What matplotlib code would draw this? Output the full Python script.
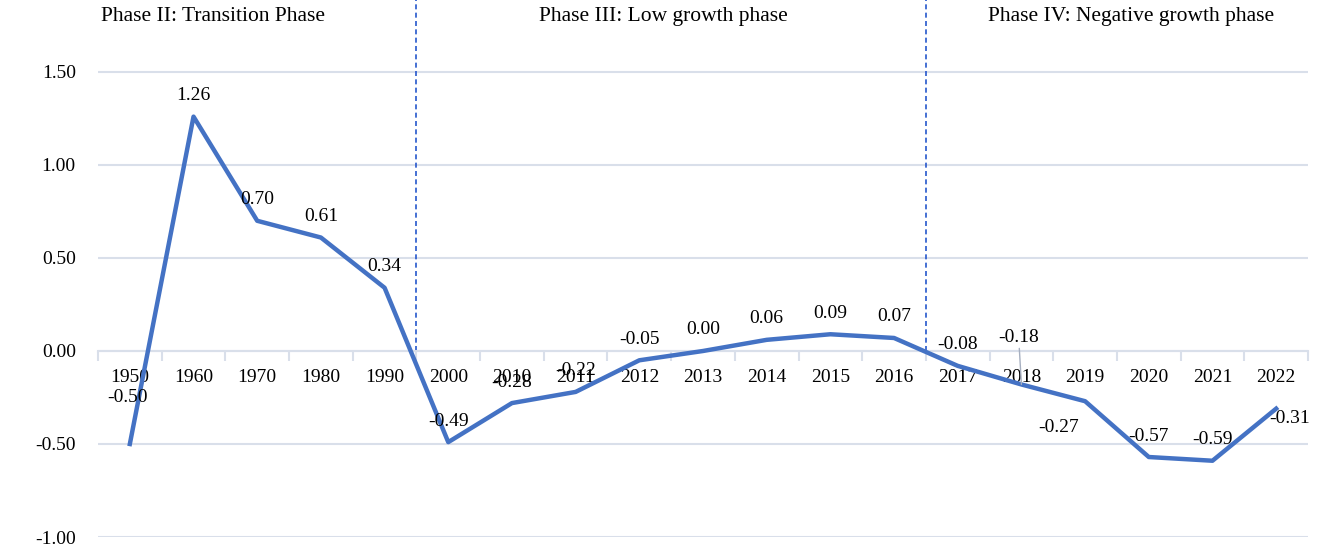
import matplotlib
matplotlib.use('Agg')
import matplotlib.pyplot as plt
import numpy as np

years = ['1950', '1960', '1970', '1980', '1990', '2000', '2010', '2011', '2012',
         '2013', '2014', '2015', '2016', '2017', '2018', '2019', '2020', '2021', '2022']
growth = [-0.50, 1.26, 0.70, 0.61, 0.34, -0.49, -0.28, -0.22, -0.05,
          0.00, 0.06, 0.09, 0.07, -0.08, -0.18, -0.27, -0.57, -0.59, -0.31]
phases = ['Phase II: Transition Phase', 'Phase III: Low growth phase',
          'Phase IV: Negative growth phase']

plt.rcParams['font.family'] = ['Liberation Serif', 'DejaVu Serif']

fig = plt.figure(figsize=(13.28, 5.53), dpi=100)
ax = fig.add_axes([98 / 1328, 16 / 553, 1210 / 1328, 537 / 553])

x = np.arange(len(years))
ax.plot(x, growth, color='#4472C4', lw=3.2, solid_joinstyle='round', zorder=3)

ax.set_xlim(-0.5, len(years) - 0.5)
ax.set_ylim(-1.0, 1.887)
yt = [-1.0, -0.5, 0.0, 0.5, 1.0, 1.5]
ax.set_yticks(yt)
ax.set_yticklabels([f'{v:.2f}' for v in yt], fontsize=14)
ax.yaxis.grid(True, color='#D9DFEA', lw=1.5)
ax.set_axisbelow(True)
ax.tick_params(axis='y', length=0, pad=16)

for s in ['top', 'right', 'left']:
    ax.spines[s].set_visible(False)
ax.spines['bottom'].set_position(('data', 0))
ax.spines['bottom'].set_color('#D9DFEA')
ax.spines['bottom'].set_linewidth(1.5)

ax.set_xticks(x)
ax.set_xticklabels(years, fontsize=14)
ax.tick_params(axis='x', which='major', length=0, pad=13)
ax.set_xticks(np.arange(-0.5, len(years), 1), minor=True)
ax.tick_params(axis='x', which='minor', length=7, color='#D9DFEA', width=1.5)

# data labels (offsets in points)
offsets = {i: (0, 9) for i in range(len(years))}
offsets[0] = (-2, 27)
offsets[15] = (-19, -19)
offsets[18] = (10, -7)
for i, v in enumerate(growth):
    if i == 14:
        continue
    dx, dy = offsets[i]
    ax.annotate(f'{v:.2f}', (x[i], v), xytext=(dx, dy), textcoords='offset points',
                ha='center', va='bottom' if dy > 0 else 'center', fontsize=14, zorder=4)
ax.annotate(f'{growth[14]:.2f}', (x[14], growth[14]), xytext=(-2, 28), textcoords='offset points',
            ha='center', va='bottom', fontsize=14, zorder=4,
            arrowprops=dict(arrowstyle='-', color='#A6AFC0', lw=1, shrinkA=0, shrinkB=0))

# phase dividers
for b in [4.5, 12.5]:
    ax.plot([b, b], [0, 1.887], color='#2557CC', lw=1.2, ls=(0, (3, 2)), zorder=2)

phase_x = [1.3, 8.37, 15.72]
for px, label in zip(phase_x, phases):
    ax.text(px, 1.80, label, ha='center', va='center', fontsize=15.5)

fig.savefig('out.png', dpi=100)
